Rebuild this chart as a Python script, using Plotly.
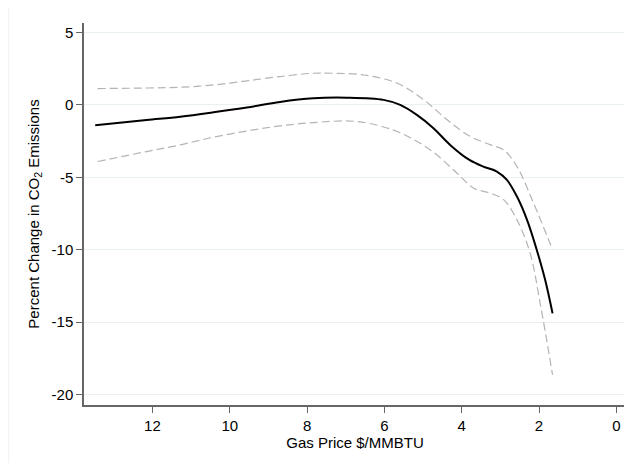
import plotly.graph_objects as go

# Gas price ($/MMBTU) and percent change in CO2 emissions
fit_x = [13.48, 12.15, 11.28, 10.42, 9.56, 8.70, 7.84, 6.97, 6.02, 5.59, 5.16, 4.73, 4.30, 3.80, 3.44, 3.09, 2.83, 2.57, 2.31, 2.06, 1.84, 1.65]
fit_y = [-1.40, -1.04, -0.81, -0.51, -0.18, 0.21, 0.46, 0.50, 0.35, 0.00, -0.69, -1.61, -2.76, -3.80, -4.26, -4.60, -5.18, -6.33, -7.94, -10.00, -12.10, -14.40]

upper_x = [13.42, 12.15, 11.28, 10.42, 9.56, 8.70, 7.84, 7.39, 6.53, 5.67, 4.98, 4.37, 3.77, 3.25, 2.91, 2.57, 2.14, 1.65]
upper_y = [1.13, 1.17, 1.22, 1.38, 1.66, 1.96, 2.19, 2.19, 2.07, 1.50, 0.35, -1.04, -2.19, -2.76, -3.11, -4.26, -6.79, -10.00]

lower_x = [13.42, 12.15, 11.28, 10.42, 9.56, 8.70, 7.84, 6.70, 5.67, 4.81, 4.12, 3.69, 3.25, 2.91, 2.57, 2.23, 1.97, 1.65]
lower_y = [-3.91, -3.22, -2.76, -2.23, -1.80, -1.45, -1.22, -1.15, -1.84, -3.11, -4.72, -5.75, -6.10, -6.56, -7.94, -10.24, -13.70, -18.65]

x_ticks = [12, 10, 8, 6, 4, 2, 0]
y_ticks = [5, 0, -5, -10, -15, -20]

FONT = "Liberation Sans, Arial, Helvetica, sans-serif"

fig = go.Figure()
ci_style = dict(color="#b4b4b4", width=1.2, dash="8px,4px", shape="spline", smoothing=1)
fig.add_trace(go.Scatter(x=upper_x, y=upper_y, mode="lines", line=ci_style, hoverinfo="skip"))
fig.add_trace(go.Scatter(x=lower_x, y=lower_y, mode="lines", line=ci_style, hoverinfo="skip"))
fig.add_trace(go.Scatter(x=fit_x, y=fit_y, mode="lines",
                         line=dict(color="black", width=2, shape="spline", smoothing=1)))

# the page body adds an 8px offset, so the figure is sized to fill the rest of the window
fig.update_layout(
    width=624, height=455,
    margin=dict(l=76, r=6, t=15, b=58),
    paper_bgcolor="white", plot_bgcolor="white",
    showlegend=False,
    font=dict(family=FONT, size=15, color="black"),
    xaxis=dict(
        range=[13.77, -0.25], tickvals=x_ticks, ticktext=[str(v) for v in x_ticks],
        showgrid=False, zeroline=False, automargin=False,
        showline=True, linecolor="#666666", linewidth=1.5,
        ticks="outside", ticklen=6, tickcolor="#666666", tickwidth=1,
        tickfont=dict(size=15),
        title=dict(text="Gas Price $/MMBTU", font=dict(size=15), standoff=0),
    ),
    yaxis=dict(
        range=[-20.73, 5.66], tickvals=y_ticks, ticktext=[str(v) for v in y_ticks],
        showgrid=True, gridcolor="#e9f0f2", gridwidth=1, zeroline=False, automargin=False,
        showline=True, linecolor="#666666", linewidth=1.5,
        ticks="outside", ticklen=6, tickcolor="#666666", tickwidth=1,
        tickfont=dict(size=15),
        title=dict(text="Percent Change in CO<sub>2</sub> Emissions", font=dict(size=15), standoff=8),
    ),
)

# faint outer frame (left edge)
fig.add_shape(type="line", xref="paper", yref="paper", x0=-0.139, x1=-0.139, y0=-0.16, y1=1.04,
              line=dict(color="#f2f2f2", width=1))

fig.write_html("out.html")
